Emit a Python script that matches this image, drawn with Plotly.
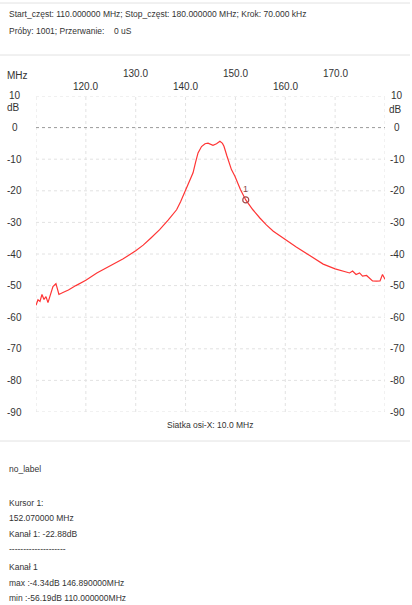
import plotly.graph_objects as go

W, H = 412, 605

# ---- data ----
freq = [110.0, 110.4, 110.8, 111.2, 111.6, 112.0, 112.4, 112.8, 113.4, 114.0,
        114.3, 114.6, 115.4, 116.5, 118.0, 120.0, 122.2, 124.8, 127.5, 130.0,
        131.5, 133.0, 134.8, 136.5, 138.2, 139.0, 140.0, 140.8, 141.5, 142.0,
        142.5, 143.2, 143.9, 144.5, 145.0, 145.5, 146.2, 146.89, 147.4, 147.7,
        148.3, 148.8, 149.2, 149.9, 150.3, 151.0, 152.07, 153.5, 154.9, 156.2,
        157.6, 159.9, 162.2, 164.9, 167.6, 170.0, 171.5, 172.9, 173.5, 174.2,
        174.9, 175.5, 176.3, 176.9, 177.5, 178.3, 179.0, 179.5, 180.0]
db = [-56.2, -54.5, -55.0, -52.8, -54.4, -53.5, -55.4, -53.0, -50.3, -49.4,
      -51.5, -52.8, -52.2, -51.4, -50.0, -48.3, -46.0, -43.9, -41.5, -39.0,
      -37.2, -35.0, -32.3, -29.3, -26.0, -23.5, -20.0, -17.0, -14.3, -11.0,
      -8.0, -6.0, -5.1, -4.9, -5.3, -5.6, -5.1, -4.34, -5.0, -5.9,
      -9.0, -11.5, -13.3, -15.4, -17.0, -19.6, -22.88, -26.0, -28.6, -30.8,
      -32.8, -35.4, -37.8, -40.5, -43.2, -44.7, -45.3, -46.0, -45.4, -46.5,
      -46.0, -47.0, -46.8, -47.8, -48.5, -48.6, -48.5, -46.5, -48.0]

x_grid = [110, 120, 130, 140, 150, 160, 170, 180]
x_ticks_upper = [130, 150, 170]
x_ticks_lower = [120, 140, 160]
y_ticks = [10, 0, -10, -20, -30, -40, -50, -60, -70, -80, -90]

cursor_f = 152.07
cursor_db = -22.88

header_lines = [
    "Start_częst: 110.000000 MHz; Stop_częst: 180.000000 MHz; Krok: 70.000 kHz",
    "Próby: 1001; Przerwanie:    0 uS",
]
footer_lines = [
    ("no_label", 469),
    ("Kursor 1:", 503),
    ("152.070000 MHz", 518),
    ("Kanał 1: -22.88dB", 534),
    ("--------------------", 549),
    ("Kanał 1", 567),
    ("max :-4.34dB 146.890000MHz", 583),
    ("min :-56.19dB 110.000000MHz", 598),
]

FONT = "Liberation Sans"
TXT = "#333333"


def px(x):
    return x / W


def py(y):
    return 1 - y / H


fig = go.Figure()

fig.add_trace(go.Scatter(x=freq, y=db, mode="lines",
                         line=dict(color="#ff3535", width=1.2),
                         hoverinfo="skip"))
fig.add_trace(go.Scatter(x=[cursor_f], y=[cursor_db], mode="markers",
                         marker=dict(symbol="circle-open", size=6,
                                     color="#a04848", line=dict(width=1.2)),
                         hoverinfo="skip"))

shapes = []
for xv in x_grid:
    shapes.append(dict(type="line", xref="x", yref="y", x0=xv, x1=xv,
                       y0=min(y_ticks), y1=max(y_ticks),
                       line=dict(color="#e2e2e2", width=1, dash="dot"),
                       layer="below"))
for yv in y_ticks:
    shapes.append(dict(type="line", xref="x", yref="y", x0=min(x_grid),
                       x1=max(x_grid), y0=yv, y1=yv,
                       line=dict(color="#9a9a9a" if yv == 0 else "#e2e2e2",
                                 width=1, dash="dot"),
                       layer="below"))
# separators
for yy in (3, 55, 441):
    shapes.append(dict(type="line", xref="paper", yref="paper", x0=0,
                       x1=px(410), y0=py(yy), y1=py(yy),
                       line=dict(color="#e2e2e2", width=1)))

ann = []
for i, t in enumerate(header_lines):
    ann.append(dict(text=t, xref="paper", yref="paper", x=px(7),
                    y=py(14 + 17 * i), xanchor="left", yanchor="middle",
                    showarrow=False, font=dict(family=FONT, size=8.5, color=TXT)))
for t, yy in footer_lines:
    ann.append(dict(text=t, xref="paper", yref="paper", x=px(7), y=py(yy),
                    xanchor="left", yanchor="middle", showarrow=False,
                    font=dict(family=FONT, size=8.5, color=TXT)))
for xv in x_ticks_upper:
    ann.append(dict(text=f"{xv:.1f}", xref="x", yref="paper", x=xv, y=py(74),
                    xanchor="center", yanchor="middle", showarrow=False,
                    font=dict(family=FONT, size=10, color=TXT)))
for xv in x_ticks_lower:
    ann.append(dict(text=f"{xv:.1f}", xref="x", yref="paper", x=xv, y=py(86),
                    xanchor="center", yanchor="middle", showarrow=False,
                    font=dict(family=FONT, size=10, color=TXT)))
for yv in y_ticks:
    for xx in (15, 397):
        ann.append(dict(text=str(yv), xref="paper", yref="y", x=px(xx), y=yv,
                        xanchor="center", yanchor="middle", showarrow=False,
                        font=dict(family=FONT, size=10, color=TXT)))
ann.append(dict(text="dB", xref="paper", yref="paper", x=px(13), y=py(108),
                xanchor="center", yanchor="middle", showarrow=False,
                font=dict(family=FONT, size=10, color=TXT)))
ann.append(dict(text="dB", xref="paper", yref="paper", x=px(395), y=py(109),
                xanchor="center", yanchor="middle", showarrow=False,
                font=dict(family=FONT, size=10, color=TXT)))
ann.append(dict(text="MHz", xref="paper", yref="paper", x=px(17), y=py(75),
                xanchor="center", yanchor="middle", showarrow=False,
                font=dict(family=FONT, size=10, color=TXT)))
ann.append(dict(text="Siatka osi-X: 10.0 MHz", xref="paper", yref="paper",
                x=px(210), y=py(425), xanchor="center", yanchor="middle",
                showarrow=False, font=dict(family=FONT, size=8.5, color=TXT)))
ann.append(dict(text="1", xref="x", yref="y", x=cursor_f, y=cursor_db,
                yshift=11, xanchor="center", yanchor="middle", showarrow=False,
                font=dict(family=FONT, size=9, color="#8a4a4a")))

fig.update_layout(
    width=W, height=H, margin=dict(l=0, r=0, t=0, b=0),
    paper_bgcolor="white", plot_bgcolor="white", showlegend=False,
    xaxis=dict(range=[110, 180], domain=[px(36), px(385)], visible=False,
               fixedrange=True),
    yaxis=dict(range=[-90, 10], domain=[py(412), py(96)], visible=False,
               fixedrange=True),
    shapes=shapes, annotations=ann,
)

fig.write_html(
    "out.html",
    config={"displayModeBar": False, "staticPlot": True},
    post_script="document.body.style.margin='0';document.body.style.overflow='hidden';",
)
